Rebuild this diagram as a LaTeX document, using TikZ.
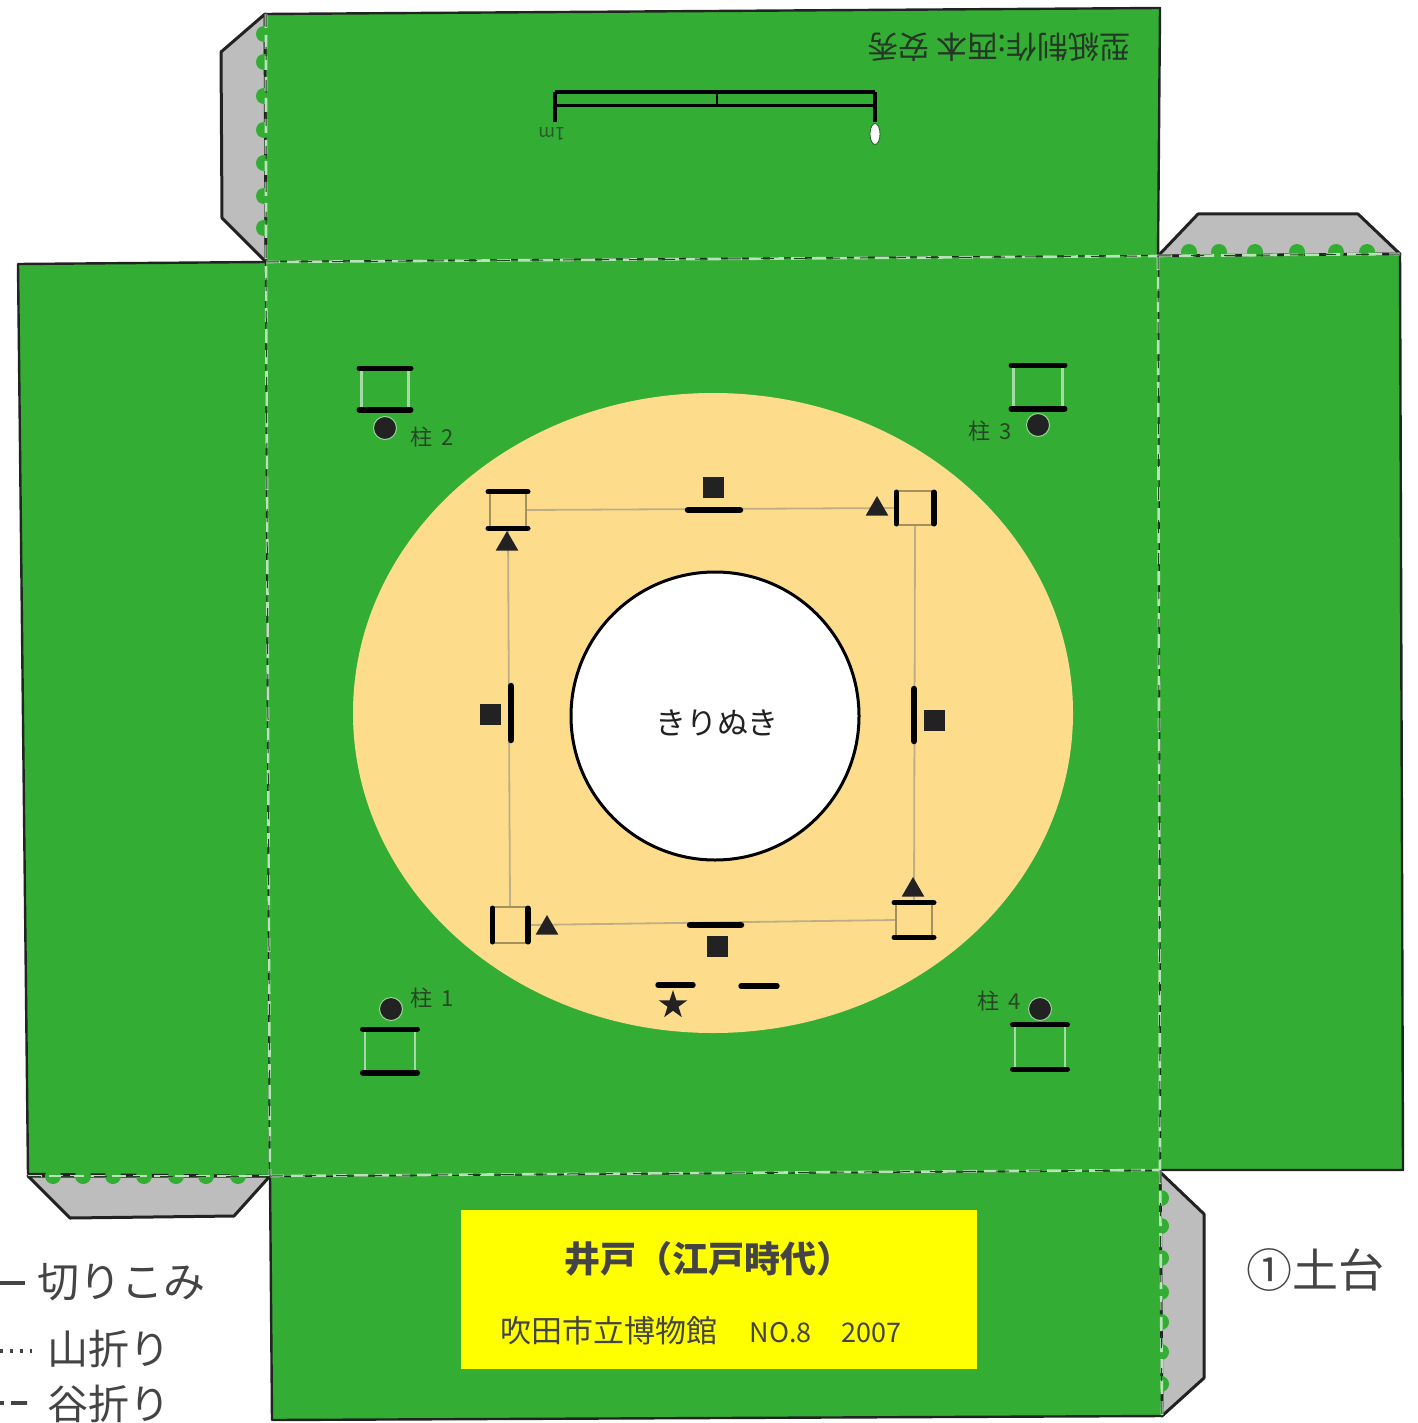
\documentclass[tikz,border=0pt]{standalone}
\usepackage{fontspec}
\setmainfont{Noto Sans CJK JP}
\usetikzlibrary{shapes.geometric}
\definecolor{kusa}{HTML}{34AD34}
\definecolor{tsuchi}{HTML}{FDDD8C}
\definecolor{tabu}{HTML}{BDBDBD}
\definecolor{sumi}{HTML}{222222}
\definecolor{moji}{HTML}{444444}
\definecolor{kiiro}{HTML}{FFFF00}
\newcommand{\jsize}[1]{\fontsize{#1}{#1}\selectfont}
\tikzset{
    panel/.style={fill=kusa, draw=sumi, line width=2.4pt, line join=round},
    tabpanel/.style={fill=tabu, draw=sumi, line width=3pt, line join=round},
    foldwhite/.style={draw=white!65!kusa, line width=2.6pt, dash pattern=on 14pt off 7pt},
    folddark/.style={draw=sumi!80!kusa, line width=1pt, dash pattern=on 13pt off 20pt},
    bump/.style={circle, fill=kusa, inner sep=0pt, minimum size=16pt},
    bar/.style={draw=black, line width=5.4pt, line cap=round},
    innerframe/.style={draw=black!35!tsuchi, line width=1.6pt, inner sep=0pt},
    outerframe/.style={draw=white!55!kusa, line width=2.6pt, inner sep=0pt},
    link/.style={draw=gray!50!tsuchi, line width=1.8pt},
    post/.style={circle, fill=sumi, draw=white!50!kusa, line width=1pt, inner sep=0pt, minimum size=23pt},
    sqmark/.style={rectangle, fill=sumi, inner sep=0pt, minimum size=21pt},
    trimark/.style={regular polygon, regular polygon sides=3, fill=sumi, inner sep=0pt, minimum size=26pt},
    hashira/.style={text=sumi!75!kusa, font=\jsize{22}},
    legendtext/.style={text=moji, font=\jsize{41}, anchor=west}
}
\begin{document}
\begin{tikzpicture}[x=1pt,y=-1pt]
    \useasboundingbox (0,0) rectangle (1417,1423);

    % tabs
    \draw[tabpanel] (265,14) -- (221,52) -- (222,218) -- (266,262) -- cycle;
    \draw[tabpanel] (1158,256) -- (1198,214) -- (1358,214) -- (1400,254) -- cycle;
    \draw[tabpanel] (28,1176) -- (70,1218) -- (234,1216) -- (270,1176) -- cycle;
    \draw[tabpanel] (1160,1172) -- (1204,1214) -- (1204,1378) -- (1162,1416) -- cycle;

    % panels
    \draw[panel] (265,14) -- (1160,8) -- (1158,256) -- (266,262) -- cycle;
    \draw[panel] (18,264) -- (266,262) -- (270,1176) -- (28,1174) -- cycle;
    \draw[panel] (1158,256) -- (1400,254) -- (1403,1170) -- (1160,1170) -- cycle;
    \draw[panel] (270,1176) -- (1160,1170) -- (1162,1416) -- (272,1420) -- cycle;
    \fill[kusa] (266,262) -- (1158,256) -- (1160,1170) -- (270,1176) -- cycle;

    % bumps along the glue tabs
    \foreach \y in {34,62,96,130,163,196,228}
        \node[bump] (a\y) at (264,\y) {};
    \foreach \x in {1189,1219,1255,1297,1336,1367}
        \node[bump] (b\x) at (\x,252) {};
    \foreach \x in {53,83,113,144,176,206,238}
        \node[bump] (c\x) at (\x,1176) {};
    \foreach \y in {1198,1226,1258,1292,1322,1352,1384}
        \node[bump] (d\y) at (1161,\y) {};

    % fold lines
    \foreach \s in {foldwhite,folddark} {
        \draw[\s] (266,262) -- (1158,256);
        \draw[\s] (270,1176) -- (1160,1170);
        \draw[\s] (266,14) -- (266,262) -- (270,1176);
        \draw[\s] (1158,256) -- (1160,1170);
        \draw[\s] (1160,1170) -- (1162,1416);
        \draw[\s] (1158,256) -- (1400,254);
        \draw[\s] (28,1176) -- (270,1176);
    }

    % well
    \fill[tsuchi] (713,713) ellipse [x radius=360, y radius=320];
    \node[circle, draw=black, line width=3pt, fill=white, minimum size=288pt, inner sep=0pt] (ido) at (715,716) {};
    \node[text=sumi, font=\jsize{31}] (kirinuki) at (717,723) {きりぬき};

    % inner frame
    \node[innerframe, minimum width=36pt, minimum height=35pt] (w2) at (508,510) {};
    \node[innerframe, minimum width=36pt, minimum height=34pt] (w3) at (915,508) {};
    \node[innerframe, minimum width=36pt, minimum height=33pt] (w4) at (914,920) {};
    \node[innerframe, minimum width=34pt, minimum height=36pt] (w1) at (510,925) {};
    \draw[link] (w2.east) -- (w3.west);
    \draw[link] (w3.south) -- (w4.north);
    \draw[link] (w4.west) -- (w1.east);
    \draw[link] (w1.north) -- (w2.south);
    \draw[bar] ([xshift=-1pt]w2.north west) -- ([xshift=1pt]w2.north east);
    \draw[bar] ([xshift=-1pt]w2.south west) -- ([xshift=1pt]w2.south east);
    \draw[bar] ([yshift=-2pt]w3.north west) -- ([yshift=2pt]w3.south west);
    \draw[bar] ([yshift=-2pt]w3.north east) -- ([yshift=2pt]w3.south east);
    \draw[bar] ([xshift=-1pt]w4.north west) -- ([xshift=1pt]w4.north east);
    \draw[bar] ([xshift=-1pt]w4.south west) -- ([xshift=1pt]w4.south east);
    \draw[bar] ([yshift=-2pt]w1.north west) -- ([yshift=2pt]w1.south west);
    \draw[bar] ([yshift=-2pt]w1.north east) -- ([yshift=2pt]w1.south east);
    \node[trimark] (t2) at (507,544) {};
    \node[trimark] (t3) at (877,509) {};
    \node[trimark] (t4) at (913,890) {};
    \node[trimark] (t1) at (547,928) {};

    % middle marks
    \coordinate (m1a) at (688,510); \coordinate (m1b) at (740,510);
    \coordinate (m2a) at (914,689); \coordinate (m2b) at (914,741);
    \coordinate (m3a) at (690,925); \coordinate (m3b) at (741,925);
    \coordinate (m4a) at (511,686); \coordinate (m4b) at (511,740);
    \foreach \a/\b in {m1a/m1b,m2a/m2b,m3a/m3b,m4a/m4b}
        \draw[bar, line width=6.5pt] (\a) -- (\b);
    \node[sqmark] (s1) at (713,487) {};
    \node[sqmark] (s2) at (934,720) {};
    \node[sqmark] (s3) at (717,946) {};
    \node[sqmark] (s4) at (490,714) {};
    \coordinate (d1a) at (658,985); \coordinate (d1b) at (693,985);
    \coordinate (d2a) at (741,986); \coordinate (d2b) at (777,986);
    \draw[bar] (d1a) -- (d1b);
    \draw[bar] (d2a) -- (d2b);
    \node[star, star points=5, star point ratio=2.6, fill=sumi, inner sep=0pt, minimum size=30pt] (hoshi) at (673,1005) {};

    % posts
    \node[outerframe, minimum width=47pt, minimum height=39pt] (h2) at (385,389) {};
    \node[outerframe, minimum width=49pt, minimum height=41pt] (h3) at (1038,387) {};
    \node[outerframe, minimum width=50pt, minimum height=41pt] (h1) at (390,1051) {};
    \node[outerframe, minimum width=50pt, minimum height=42pt] (h4) at (1040,1047) {};
    \foreach \h in {h1,h2,h3,h4} {
        \draw[bar] ([xshift=-1pt]\h.north west) -- ([xshift=1pt]\h.north east);
        \draw[bar] ([xshift=-1pt]\h.south west) -- ([xshift=1pt]\h.south east);
    }
    \node[post] (p2) at (385,428) {};
    \node[post] (p3) at (1038,425) {};
    \node[post] (p1) at (391,1009) {};
    \node[post] (p4) at (1040,1009) {};
    \node[hashira] (l2) at (432,437) {柱\ \,2};
    \node[hashira] (l3) at (990,431) {柱\ \,3};
    \node[hashira] (l1) at (432,998) {柱\ \,1};
    \node[hashira] (l4) at (999,1001) {柱\ \,4};

    % scale and maker, upside down
    \coordinate (k1) at (555,92); \coordinate (k2) at (875,92);
    \coordinate (k3) at (555,106); \coordinate (k4) at (875,106);
    \coordinate (k5) at (555,122); \coordinate (k6) at (875,122);
    \coordinate (k7) at (717,92); \coordinate (k8) at (717,106);
    \draw[black, line width=4.4pt] (k1) -- (k2);
    \draw[black, line width=3pt] (k3) -- (k4);
    \draw[black, line width=3.2pt] (k1) -- (k5);
    \draw[black, line width=3.2pt] (k2) -- (k6);
    \draw[black, line width=2.2pt] (k7) -- (k8);
    \node[rotate=180, text=sumi!60!kusa, font=\jsize{18}] (ichi) at (552,134) {1m};
    \node[ellipse, fill=white, draw=sumi!60!kusa, line width=.8pt, inner sep=0pt, minimum width=10pt, minimum height=21pt] (zero) at (875,134) {};
    \node[rotate=180, text=sumi!85!kusa, font=\jsize{31}] (kata) at (999,47) {型紙制作:西本 安秀};

    % title plate
    \node[rectangle, fill=kiiro, minimum width=516pt, minimum height=159pt, inner sep=0pt] (plate) at (719,1289.5) {};
    \node[text=moji, font=\jsize{36}\bfseries] (title) at (708,1259) {井戸（江戸時代）};
    \node[text=moji, font=\jsize{31}, anchor=west] (sub) at (497,1331) {吹田市立博物館\hspace{32pt}{\jsize{27}NO.8}\hspace{30pt}{\jsize{27}2007}};

    % sheet number and legend
    \node[text=moji, font=\jsize{46}] (num) at (1315,1270) {①土台};
    \coordinate (e1) at (0,1283); \coordinate (e2) at (25,1283);
    \draw[moji, line width=4pt] (e1) -- (e2);
    \node[legendtext] (kiri) at (34,1282) {\jsize{42}切りこみ};
    \coordinate (e3) at (0,1351); \coordinate (e4) at (32,1351);
    \draw[moji, line width=3.6pt, dash pattern=on 3pt off 7pt] (e3) -- (e4);
    \node[legendtext] (yama) at (44,1349) {山折り};
    \coordinate (e5) at (0,1403); \coordinate (e6) at (27,1403);
    \draw[moji, line width=4pt, dash pattern=on 4pt off 7pt on 16pt off 0pt] (e5) -- (e6);
    \node[legendtext] (tani) at (44,1404) {谷折り};
\end{tikzpicture}
\end{document}
